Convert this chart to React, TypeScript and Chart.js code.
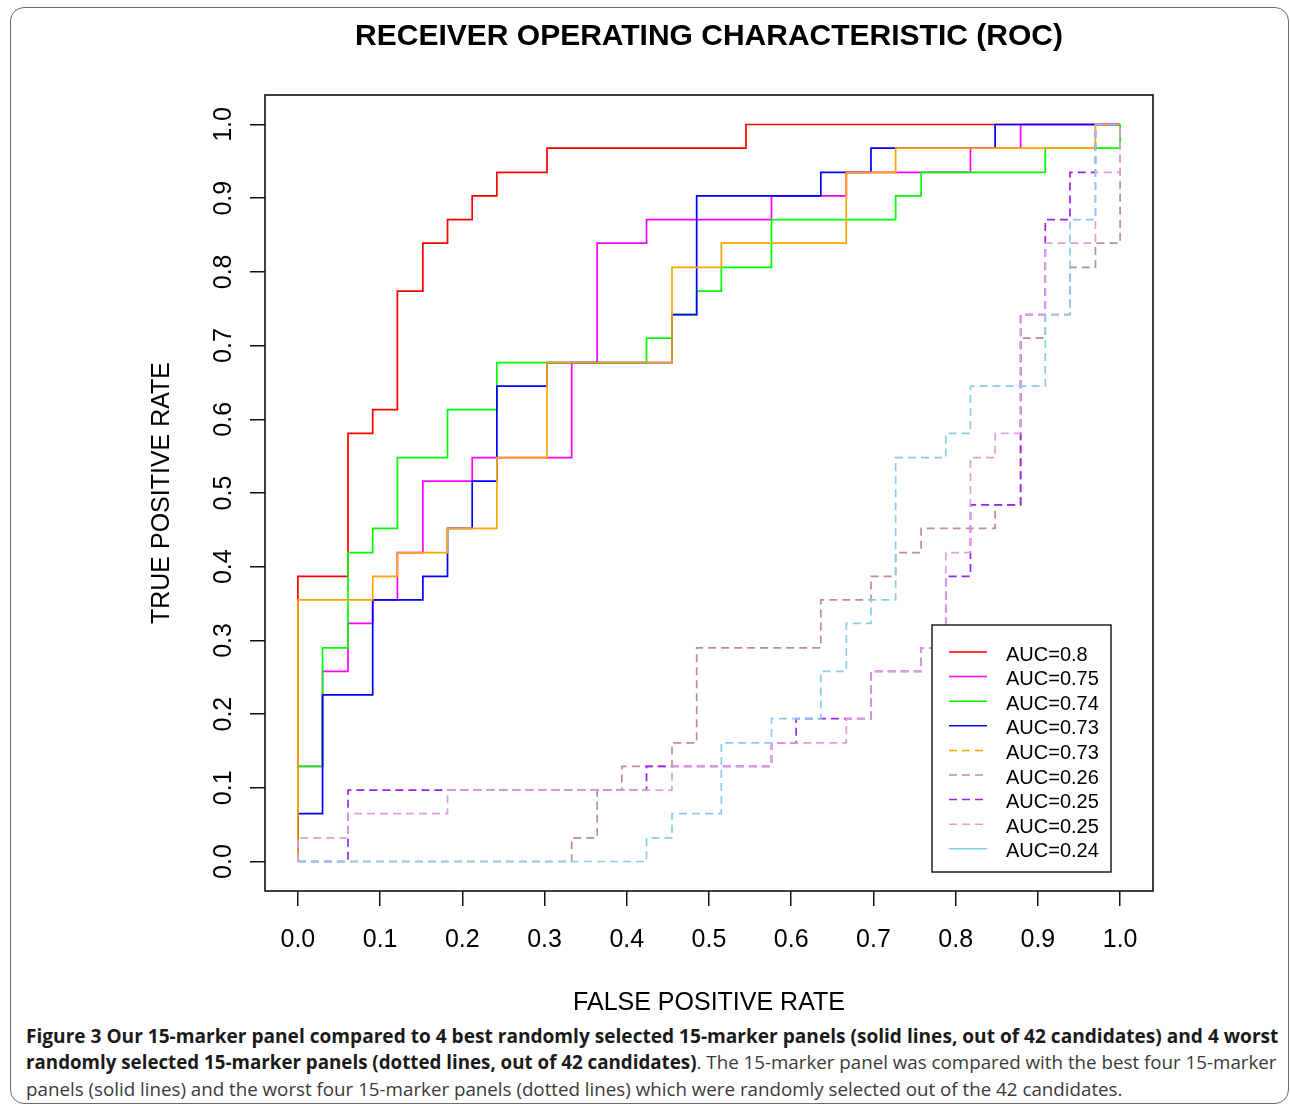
import React, { useEffect, useLayoutEffect, useRef } from "react";
import { Chart, registerables } from "chart.js";

Chart.register(...registerables);

// ---------- text ----------
const chartTitle = "RECEIVER OPERATING CHARACTERISTIC (ROC)";
const xAxisTitle = "FALSE POSITIVE RATE";
const yAxisTitle = "TRUE POSITIVE RATE";

// ---------- ticks ----------
const xTickValues = [0, 0.1, 0.2, 0.3, 0.4, 0.5, 0.6, 0.7, 0.8, 0.9, 1.0];
const yTickValues = [0, 0.1, 0.2, 0.3, 0.4, 0.5, 0.6, 0.7, 0.8, 0.9, 1.0];
const xTickLabels = ["0.0", "0.1", "0.2", "0.3", "0.4", "0.5", "0.6", "0.7", "0.8", "0.9", "1.0"];
const yTickLabels = ["0.0", "0.1", "0.2", "0.3", "0.4", "0.5", "0.6", "0.7", "0.8", "0.9", "1.0"];

// ---------- series (ROC vertices: false positive rate / true positive rate) ----------
const seriesLabels = ["AUC=0.8", "AUC=0.75", "AUC=0.74", "AUC=0.73", "AUC=0.73", "AUC=0.26", "AUC=0.25", "AUC=0.25", "AUC=0.24"];
const seriesColors = ["#FF0000", "#FF00FF", "#00FF00", "#0000FF", "#FFA500", "#BC8F8F", "#A020F0", "#DDA0DD", "#87CEEB"];
const plotDashed = [false, false, false, false, false, true, true, true, true];
const legendDashed = [false, false, false, false, true, true, true, true, false];

const redFpr = [0, 0, 0.061, 0.061, 0.091, 0.091, 0.121, 0.121, 0.152, 0.152, 0.182, 0.182, 0.212, 0.212, 0.242, 0.242, 0.303, 0.303, 0.545, 0.545, 1];
const redTpr = [0, 0.387, 0.387, 0.581, 0.581, 0.613, 0.613, 0.774, 0.774, 0.839, 0.839, 0.871, 0.871, 0.903, 0.903, 0.935, 0.935, 0.968, 0.968, 1, 1];

const magentaFpr = [0, 0, 0.030, 0.030, 0.061, 0.061, 0.091, 0.091, 0.121, 0.121, 0.152, 0.152, 0.212, 0.212, 0.333, 0.333, 0.364, 0.364, 0.424, 0.424, 0.576, 0.576, 0.667, 0.667, 0.818, 0.818, 0.879, 0.879, 1];
const magentaTpr = [0, 0.129, 0.129, 0.258, 0.258, 0.323, 0.323, 0.355, 0.355, 0.419, 0.419, 0.516, 0.516, 0.548, 0.548, 0.677, 0.677, 0.839, 0.839, 0.871, 0.871, 0.903, 0.903, 0.935, 0.935, 0.968, 0.968, 1, 1];

const greenFpr = [0, 0, 0.030, 0.030, 0.061, 0.061, 0.091, 0.091, 0.121, 0.121, 0.182, 0.182, 0.242, 0.242, 0.424, 0.424, 0.455, 0.455, 0.485, 0.485, 0.515, 0.515, 0.576, 0.576, 0.727, 0.727, 0.758, 0.758, 0.909, 0.909, 1, 1];
const greenTpr = [0, 0.129, 0.129, 0.290, 0.290, 0.419, 0.419, 0.452, 0.452, 0.548, 0.548, 0.613, 0.613, 0.677, 0.677, 0.710, 0.710, 0.742, 0.742, 0.774, 0.774, 0.806, 0.806, 0.871, 0.871, 0.903, 0.903, 0.935, 0.935, 0.968, 0.968, 1];

const blueFpr = [0, 0, 0.030, 0.030, 0.091, 0.091, 0.152, 0.152, 0.182, 0.182, 0.212, 0.212, 0.242, 0.242, 0.303, 0.303, 0.455, 0.455, 0.485, 0.485, 0.636, 0.636, 0.697, 0.697, 0.848, 0.848, 1];
const blueTpr = [0, 0.065, 0.065, 0.226, 0.226, 0.355, 0.355, 0.387, 0.387, 0.452, 0.452, 0.516, 0.516, 0.645, 0.645, 0.677, 0.677, 0.742, 0.742, 0.903, 0.903, 0.935, 0.935, 0.968, 0.968, 1, 1];

const orangeFpr = [0, 0, 0.091, 0.091, 0.121, 0.121, 0.182, 0.182, 0.242, 0.242, 0.303, 0.303, 0.455, 0.455, 0.515, 0.515, 0.667, 0.667, 0.727, 0.727, 0.970, 0.970, 1];
const orangeTpr = [0, 0.355, 0.355, 0.387, 0.387, 0.419, 0.419, 0.452, 0.452, 0.548, 0.548, 0.677, 0.677, 0.806, 0.806, 0.839, 0.839, 0.935, 0.935, 0.968, 0.968, 1, 1];

const rosyFpr = [0, 0.333, 0.333, 0.364, 0.364, 0.394, 0.394, 0.455, 0.455, 0.485, 0.485, 0.636, 0.636, 0.697, 0.697, 0.727, 0.727, 0.758, 0.758, 0.848, 0.848, 0.879, 0.879, 0.909, 0.909, 0.939, 0.939, 0.970, 0.970, 1, 1];
const rosyTpr = [0, 0, 0.032, 0.032, 0.097, 0.097, 0.129, 0.129, 0.161, 0.161, 0.290, 0.290, 0.355, 0.355, 0.387, 0.387, 0.419, 0.419, 0.452, 0.452, 0.484, 0.484, 0.710, 0.710, 0.742, 0.742, 0.806, 0.806, 0.839, 0.839, 1];

const purpleFpr = [0, 0.061, 0.061, 0.424, 0.424, 0.576, 0.576, 0.606, 0.606, 0.697, 0.697, 0.758, 0.758, 0.788, 0.788, 0.818, 0.818, 0.879, 0.879, 0.909, 0.909, 0.939, 0.939, 0.970, 0.970, 1];
const purpleTpr = [0, 0, 0.097, 0.097, 0.129, 0.129, 0.161, 0.161, 0.194, 0.194, 0.258, 0.258, 0.290, 0.290, 0.387, 0.387, 0.484, 0.484, 0.742, 0.742, 0.871, 0.871, 0.935, 0.935, 1, 1];

const plumFpr = [0, 0, 0.061, 0.061, 0.182, 0.182, 0.455, 0.455, 0.576, 0.576, 0.667, 0.667, 0.697, 0.697, 0.758, 0.758, 0.788, 0.788, 0.818, 0.818, 0.848, 0.848, 0.879, 0.879, 0.909, 0.909, 0.970, 0.970, 1, 1];
const plumTpr = [0, 0.032, 0.032, 0.065, 0.065, 0.097, 0.097, 0.129, 0.129, 0.161, 0.161, 0.194, 0.194, 0.258, 0.258, 0.290, 0.290, 0.419, 0.419, 0.548, 0.548, 0.581, 0.581, 0.742, 0.742, 0.839, 0.839, 0.935, 0.935, 1];

const skyFpr = [0, 0.424, 0.424, 0.455, 0.455, 0.515, 0.515, 0.576, 0.576, 0.636, 0.636, 0.667, 0.667, 0.697, 0.697, 0.727, 0.727, 0.788, 0.788, 0.818, 0.818, 0.909, 0.909, 0.939, 0.939, 0.970, 0.970, 1];
const skyTpr = [0, 0, 0.032, 0.032, 0.065, 0.065, 0.161, 0.161, 0.194, 0.194, 0.258, 0.258, 0.323, 0.323, 0.355, 0.355, 0.548, 0.548, 0.581, 0.581, 0.645, 0.645, 0.742, 0.742, 0.871, 0.871, 1, 1];

const seriesFpr = [redFpr, magentaFpr, greenFpr, blueFpr, orangeFpr, rosyFpr, purpleFpr, plumFpr, skyFpr];
const seriesTpr = [redTpr, magentaTpr, greenTpr, blueTpr, orangeTpr, rosyTpr, purpleTpr, plumTpr, skyTpr];

// ---------- caption ----------
const captionBold1 = "Figure 3 Our 15-marker panel compared to 4 best randomly selected 15-marker panels (solid lines, out of 42 candidates) and 4 worst";
const captionBold2 = "randomly selected 15-marker panels (dotted lines, out of 42 candidates)";
const captionRest2 = ". The 15-marker panel was compared with the best four 15-marker";
const captionLine3 = "panels (solid lines) and the worst four 15-marker panels (dotted lines) which were randomly selected out of the 42 candidates.";

const FONT = "'Liberation Sans', Arial, Helvetica, sans-serif";
const DASH = [8, 5];

const boxAndTextPlugin = {
  id: "rBoxAndText",
  beforeDatasetsDraw(chart: any) {
    const { ctx, chartArea: a } = chart;
    ctx.save();
    ctx.strokeStyle = "#111";
    ctx.lineWidth = 1.6;
    ctx.strokeRect(a.left, a.top, a.right - a.left, a.bottom - a.top);
    ctx.restore();
  },
  afterDraw(chart: any) {
    const { ctx, chartArea: a } = chart;
    ctx.save();
    // main title
    ctx.fillStyle = "#000";
    ctx.font = `bold 30px ${FONT}`;
    ctx.textAlign = "center";
    ctx.textBaseline = "middle";
    ctx.fillText(chartTitle, (a.left + a.right) / 2, 37);

    // legend box (R style)
    const lx = a.right - 221;
    const ly = a.bottom - 266;
    const lw = 179;
    const lh = 247;
    ctx.fillStyle = "#fff";
    ctx.fillRect(lx, ly, lw, lh);
    ctx.strokeStyle = "#111";
    ctx.lineWidth = 1.4;
    ctx.strokeRect(lx, ly, lw, lh);
    ctx.font = `20px ${FONT}`;
    ctx.textAlign = "left";
    ctx.textBaseline = "middle";
    seriesLabels.forEach((lab, i) => {
      const cy = ly + 30 + i * 24.6;
      ctx.strokeStyle = seriesColors[i];
      ctx.lineWidth = 1.5;
      ctx.setLineDash(legendDashed[i] ? DASH : []);
      ctx.beginPath();
      ctx.moveTo(lx + 17, cy - 3);
      ctx.lineTo(lx + 55, cy - 3);
      ctx.stroke();
      ctx.setLineDash([]);
      ctx.fillStyle = "#000";
      ctx.fillText(lab, lx + 74, cy);
    });
    ctx.restore();
  },
};

function RocChart() {
  const canvasRef = useRef<HTMLCanvasElement>(null);
  useEffect(() => {
    const canvas = canvasRef.current;
    if (!canvas) return;
    const datasets = seriesLabels.map((lab, i) => ({
      label: lab,
      data: seriesFpr[i].map((x, k) => ({ x, y: seriesTpr[i][k] })),
      borderColor: seriesColors[i],
      backgroundColor: seriesColors[i],
      borderWidth: 1.7,
      borderDash: plotDashed[i] ? DASH : [],
      pointRadius: 0,
      fill: false,
      tension: 0,
      showLine: true,
      order: seriesLabels.length - i,
    }));
    const chart = new Chart(canvas, {
      type: "scatter",
      data: { datasets },
      options: {
        animation: false,
        responsive: false,
        maintainAspectRatio: false,
        layout: { padding: { top: 95, right: 137, left: 0, bottom: 0 } },
        plugins: {
          legend: { display: false },
          tooltip: { enabled: false },
          title: { display: false },
        },
        scales: {
          x: {
            type: "linear",
            min: -0.04,
            max: 1.04,
            afterBuildTicks: (s: any) => {
              s.ticks = xTickValues.map((v) => ({ value: v }));
            },
            afterFit: (s: any) => {
              s.height = 129;
            },
            grid: { drawOnChartArea: false, drawTicks: true, tickLength: 15, color: "#111", lineWidth: 1.5 },
            border: { display: false },
            ticks: {
              autoSkip: false,
              maxRotation: 0,
              padding: 19,
              color: "#000",
              font: { family: FONT, size: 25 },
              callback: (_v: any, i: number) => xTickLabels[i],
            },
            title: {
              display: true,
              text: xAxisTitle,
              color: "#000",
              font: { family: FONT, size: 25 },
              padding: { top: 0, bottom: 2 },
            },
          },
          y: {
            type: "linear",
            min: -0.04,
            max: 1.04,
            afterBuildTicks: (s: any) => {
              s.ticks = yTickValues.map((v) => ({ value: v }));
            },
            afterFit: (s: any) => {
              s.width = 265;
            },
            grid: { drawOnChartArea: false, drawTicks: true, tickLength: 15, color: "#111", lineWidth: 1.5 },
            border: { display: false },
            ticks: {
              autoSkip: false,
              minRotation: 90,
              maxRotation: 90,
              crossAlign: "center",
              padding: 9,
              color: "#000",
              font: { family: FONT, size: 25 },
              callback: (_v: any, i: number) => yTickLabels[i],
            },
            title: {
              display: true,
              text: yAxisTitle,
              color: "#000",
              font: { family: FONT, size: 25 },
              padding: { top: 147, bottom: 0 },
            },
          },
        },
      } as any,
      plugins: [boxAndTextPlugin],
    });
    return () => chart.destroy();
  }, []);
  return (
    <canvas
      ref={canvasRef}
      width={1290}
      height={1020}
      style={{ position: "absolute", left: 0, top: 0, width: 1290, height: 1020 }}
    />
  );
}

function FitLine(props: { top: number; width: number; children: any }) {
  const ref = useRef<HTMLDivElement>(null);
  useLayoutEffect(() => {
    const el = ref.current;
    if (!el) return;
    const fit = () => {
      el.style.transform = "none";
      const w = el.offsetWidth;
      if (w > 0) el.style.transform = `scaleX(${props.width / w})`;
    };
    fit();
    const fonts = (document as any).fonts;
    if (fonts && fonts.ready) fonts.ready.then(fit);
  }, [props.width]);
  return (
    <div
      ref={ref}
      style={{
        position: "absolute",
        left: 26,
        top: props.top,
        display: "inline-block",
        whiteSpace: "nowrap",
        transformOrigin: "0 0",
        fontFamily: "'Open Sans', 'Noto Sans', sans-serif",
        fontSize: 19,
        lineHeight: "26px",
        color: "#3a3a3a",
      }}
    >
      {props.children}
    </div>
  );
}

export default function App() {
  return (
    <div style={{ position: "absolute", left: 0, top: 0, width: 1290, height: 1109, background: "#fff", overflow: "hidden" }}>
      <div
        style={{
          position: "absolute",
          left: 10,
          top: 7,
          width: 1279,
          height: 1097,
          boxSizing: "border-box",
          border: "1.5px solid #6a6a6a",
          borderRadius: 14,
        }}
      />
      <RocChart />
      <FitLine top={1023} width={1252}>
        <b style={{ color: "#1a1a1a" }}>{captionBold1}</b>
      </FitLine>
      <FitLine top={1049} width={1251}>
        <b style={{ color: "#1a1a1a" }}>{captionBold2}</b>
        {captionRest2}
      </FitLine>
      <FitLine top={1076} width={1096}>
        {captionLine3}
      </FitLine>
    </div>
  );
}
